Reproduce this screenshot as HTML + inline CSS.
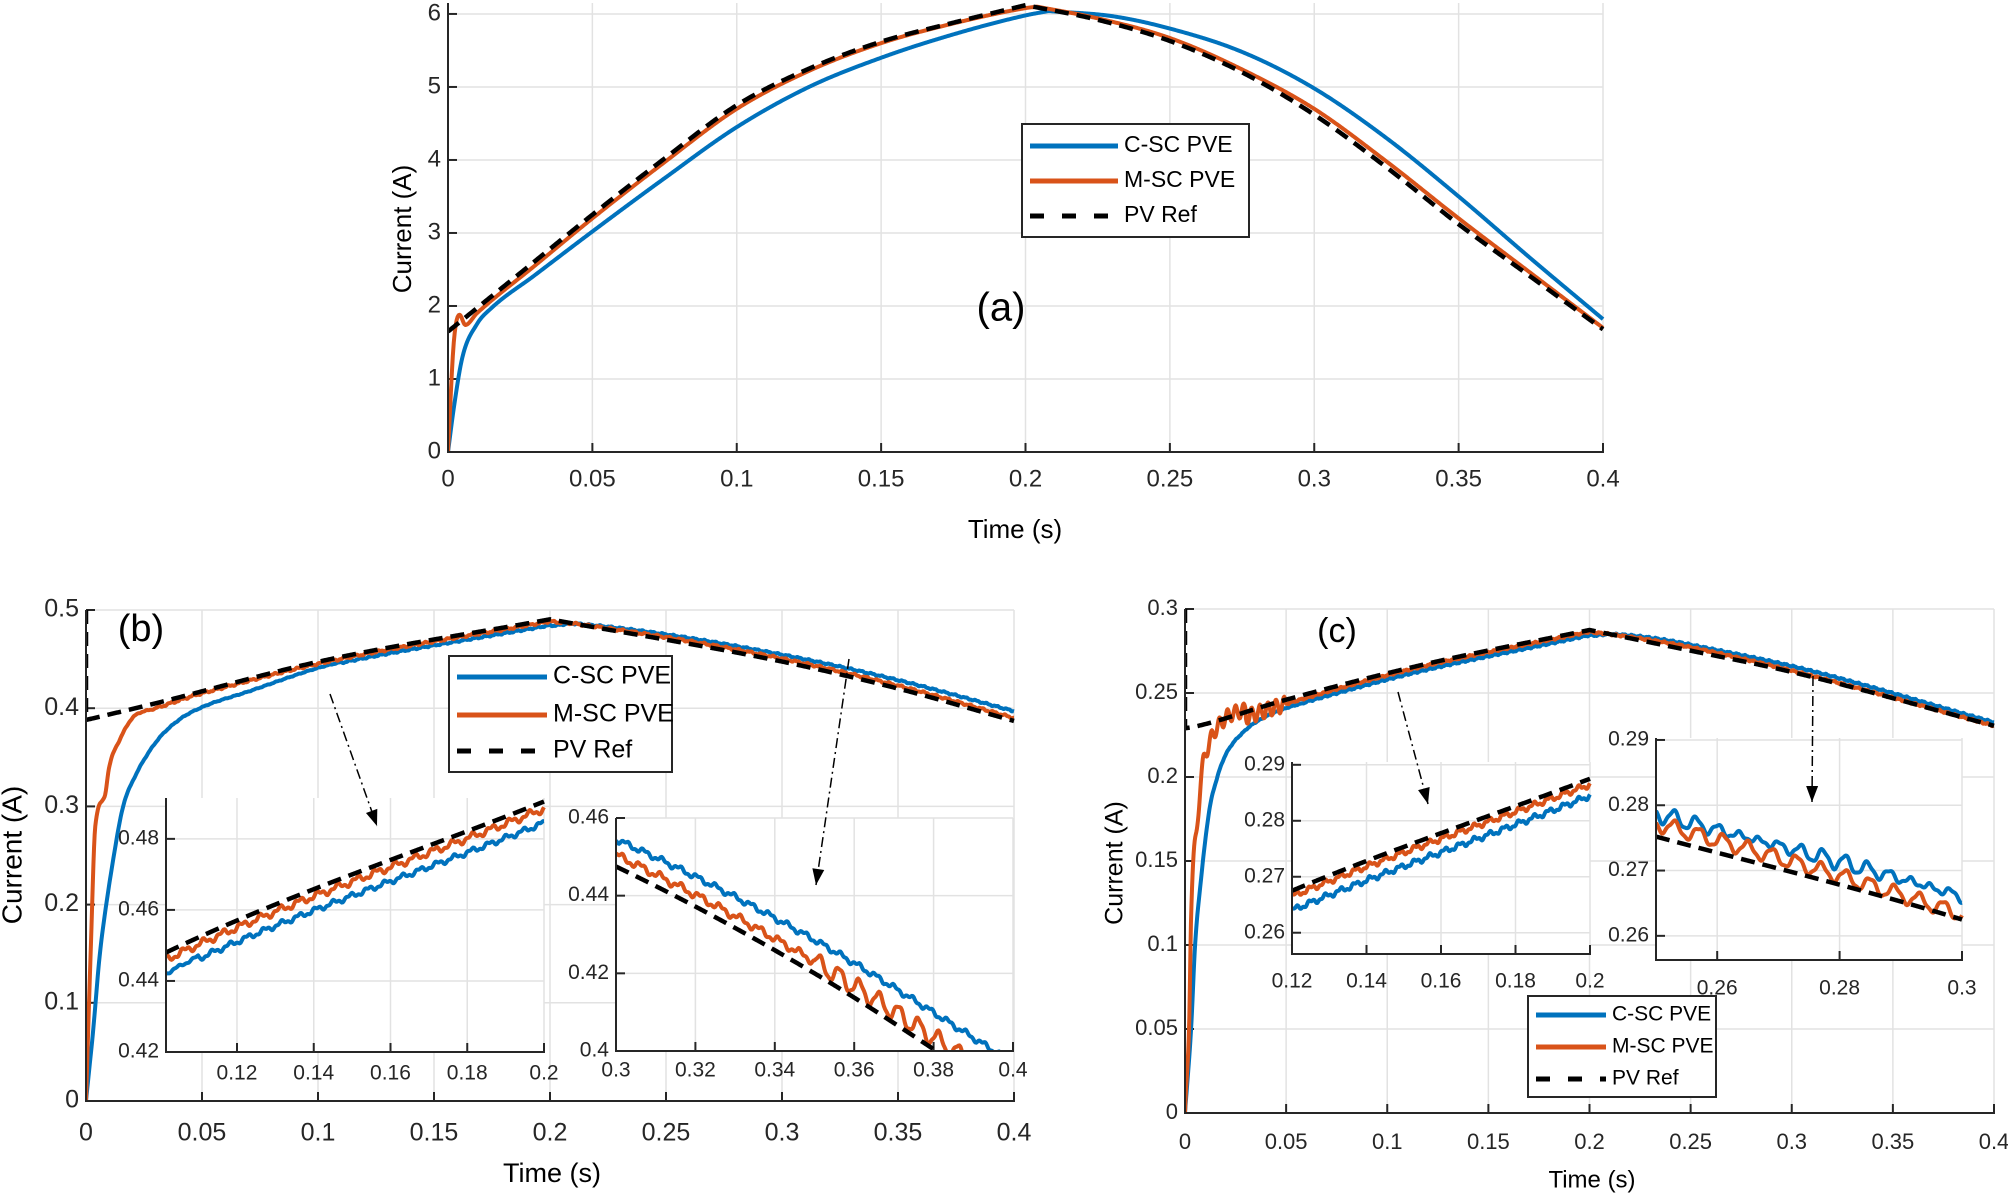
<!DOCTYPE html>
<html><head><meta charset="utf-8">
<style>html,body{margin:0;padding:0;background:#fff;}svg{display:block;font-family:"Liberation Sans",Arial,sans-serif;}</style>
</head><body>
<svg id="s" width="2008" height="1193" viewBox="0 0 2008 1193" xmlns="http://www.w3.org/2000/svg"></svg>
<script>
const S=document.getElementById('s');const NS='http://www.w3.org/2000/svg';
let cid=0;
function el(t,a,p,txt){if(typeof p==='string'){txt=p;p=null;}const e=document.createElementNS(NS,t);for(const k in a)e.setAttribute(k,a[k]);if(txt!==undefined)e.textContent=txt;(p||S).appendChild(e);return e;}
const cache=new Map();
function slopes(P){const n=P.length,d=[],m=[];for(let i=0;i<n-1;i++)d.push((P[i+1][1]-P[i][1])/(P[i+1][0]-P[i][0]));
 m[0]=d[0];m[n-1]=d[n-2];for(let i=1;i<n-1;i++){m[i]=(d[i-1]*d[i]<=0)?0:(d[i-1]+d[i])/2;}
 for(let i=0;i<n-1;i++){if(d[i]===0){m[i]=0;m[i+1]=0;continue;}const a=m[i]/d[i],b=m[i+1]/d[i],s=a*a+b*b;if(s>9){const t=3/Math.sqrt(s);m[i]=t*a*d[i];m[i+1]=t*b*d[i];}}
 return m;}
function interp(P,x){if(x<=P[0][0])return P[0][1];let m=cache.get(P);if(!m){m=slopes(P);cache.set(P,m);}
 for(let i=1;i<P.length;i++){if(x<=P[i][0]){const a=P[i-1],b=P[i],h=b[0]-a[0],t=(x-a[0])/h,t2=t*t,t3=t2*t;
  return (2*t3-3*t2+1)*a[1]+(t3-2*t2+t)*h*m[i-1]+(-2*t3+3*t2)*b[1]+(t3-t2)*h*m[i];}}return P[P.length-1][1];}
const BLUE='#0072BD',ORG='#D95319';
function axes(o){
 const {L,R,T,B,xr,yr,xt,yt,xl,yl,fs,xo,bg}=o;
 const X=v=>L+(v-xr[0])/(xr[1]-xr[0])*(R-L);
 const Y=v=>B-(v-yr[0])/(yr[1]-yr[0])*(B-T);
 if(bg)el('rect',{x:L,y:T,width:R-L,height:B-T,fill:'#fff'});
 xt.forEach(v=>el('line',{x1:X(v),x2:X(v),y1:T,y2:B,stroke:'#e2e2e2','stroke-width':1.5}));
 yt.forEach(v=>el('line',{x1:L,x2:R,y1:Y(v),y2:Y(v),stroke:'#e2e2e2','stroke-width':1.5}));
 xt.forEach((v,i)=>{el('line',{x1:X(v),x2:X(v),y1:B,y2:B-9,stroke:'#262626','stroke-width':2});
  el('text',{x:X(v),y:B+xo,'font-size':fs,'text-anchor':'middle','dominant-baseline':'middle',fill:'#262626'},null,xl[i]);});
 yt.forEach((v,i)=>{el('line',{x1:L,x2:L+9,y1:Y(v),y2:Y(v),stroke:'#262626','stroke-width':2});
  el('text',{x:L-7,y:Y(v),'font-size':fs,'text-anchor':'end','dominant-baseline':'middle',fill:'#262626'},null,yl[i]);});
 const id='c'+(cid++);const cp=el('clipPath',{id:id});el('rect',{x:L,y:T-4,width:R-L+4,height:B-T+4},cp);
 const g=el('g',{'clip-path':'url(#'+id+')'});
 o.series.forEach(s=>{let d='';const N=s.n||900;
  if(s.pre)d+='M'+X(s.pre[0])+' '+Y(s.pre[1])+' ';
  for(let i=0;i<=N;i++){const x=xr[0]+(xr[1]-xr[0])*i/N;d+=(i||s.pre?'L':'M')+X(x).toFixed(2)+' '+Y(s.f(x)).toFixed(2)+' ';}
  el('path',{d:d,fill:'none',stroke:s.c,'stroke-width':s.w||4,'stroke-dasharray':s.dash||'none','stroke-linejoin':'round'},g);});
 el('line',{x1:L,x2:L,y1:T,y2:B+1,stroke:'#262626','stroke-width':2});
 el('line',{x1:L-1,x2:R+1,y1:B,y2:B,stroke:'#262626','stroke-width':2});
}
function legend(x,y,w,h,rows,fs,ll){el('rect',{x:x,y:y,width:w,height:h,fill:'#fff',stroke:'#262626','stroke-width':2});
 const cs=[[BLUE,''],[ORG,''],['#000','14,18']];
 rows.forEach((ry,i)=>{el('line',{x1:x+8,x2:x+8+ll,y1:ry,y2:ry,stroke:cs[i][0],'stroke-width':5,'stroke-dasharray':cs[i][1]||'none'});
  el('text',{x:x+14+ll,y:ry,'font-size':fs,'dominant-baseline':'middle',fill:'#000'},null,['C-SC PVE','M-SC PVE','PV Ref'][i]);});}
function arrow(x1,y1,x2,y2){el('line',{x1:x1,y1:y1,x2:x2,y2:y2,stroke:'#000','stroke-width':1.5,'stroke-dasharray':'10,4,2,4'});
 const a=Math.atan2(y2-y1,x2-x1),l=16,w=6;const p=[[x2,y2],[x2-l*Math.cos(a)+w*Math.sin(a),y2-l*Math.sin(a)-w*Math.cos(a)],[x2-l*Math.cos(a)-w*Math.sin(a),y2-l*Math.sin(a)+w*Math.cos(a)]];
 el('polygon',{points:p.map(q=>q.join(',')).join(' '),fill:'#000'});}
const rip=(A,P)=>x=>A*(Math.sin(2*Math.PI*x/P)+0.5*Math.sin(2*Math.PI*x/(P*0.37)+1));
function mk(ref,init,xs,off,r){return x=>x<xs?interp(init,x)+r(x)*0.5:interp(ref,x)+interp(off,x)+r(x);}
const xt4=[0,0.05,0.1,0.15,0.2,0.25,0.3,0.35,0.4],xl4=['0','0.05','0.1','0.15','0.2','0.25','0.3','0.35','0.4'];
// ---- (a)
const refA1=[[0,1.65],[0.025,2.45],[0.05,3.25],[0.075,4.02],[0.1,4.75],[0.125,5.25],[0.15,5.62],[0.175,5.88],[0.2,6.12]];
const refA2=[[0.2,6.12],[0.225,5.92],[0.25,5.63],[0.275,5.2],[0.3,4.62],[0.325,3.9],[0.35,3.12],[0.375,2.4],[0.4,1.68]];
const bluA1=[[0,0],[0.002,0.6],[0.005,1.3],[0.01,1.75],[0.015,1.97],[0.03,2.42],[0.05,3.02],[0.075,3.75],[0.1,4.45],[0.125,5.0],[0.15,5.4],[0.175,5.72],[0.2,5.98],[0.208,6.04]];
const bluA2=[[0.208,6.04],[0.23,5.97],[0.25,5.8],[0.275,5.48],[0.3,4.98],[0.325,4.3],[0.35,3.5],[0.375,2.65],[0.4,1.82]];
const orgA1=[[0,0],[0.002,1.5],[0.004,1.88],[0.006,1.74],[0.01,1.9],[0.03,2.55],[0.05,3.2],[0.075,3.97],[0.1,4.7],[0.125,5.22],[0.15,5.6],[0.175,5.87],[0.2,6.08],[0.204,6.1]];
const orgA2=[[0.204,6.1],[0.225,5.94],[0.25,5.67],[0.275,5.24],[0.3,4.7],[0.325,3.98],[0.35,3.2],[0.375,2.45],[0.4,1.7]];
const two=(A,Bp)=>x=>x<=Bp[0][0]?interp(A,x):interp(Bp,x);
axes({L:448,R:1603,T:3,B:452,xr:[0,0.4],yr:[0,6.15],xt:xt4,xl:xl4,yt:[0,1,2,3,4,5,6],yl:['0','1','2','3','4','5','6'],fs:24,xo:28,
 series:[{f:two(bluA1,bluA2),c:BLUE,n:1200},{f:two(orgA1,orgA2),c:ORG,n:1200},{f:two(refA1,refA2),c:'#000',dash:'14,8',w:4.5}]});
el('text',{x:1015,y:531,'font-size':26,'text-anchor':'middle','dominant-baseline':'middle'},null,'Time (s)');
el('text',{x:0,y:0,'font-size':26,'text-anchor':'middle','dominant-baseline':'middle',transform:'translate(404,229) rotate(-90)'},null,'Current (A)');
el('text',{x:1001,y:310,'font-size':40,'text-anchor':'middle','dominant-baseline':'middle'},null,'(a)');
legend(1022,124,227,113,[146,181,216],23,88);
// ---- (b)
const refB1=[[0,0.388],[0.03,0.405],[0.1015,0.448],[0.2,0.4905]],refB2=[[0.2,0.4905],[0.3,0.4475],[0.35,0.42],[0.4,0.387]];
const refB=null;
const rB=two(refB1,refB2);
function mk2(rf,init,xs,off,r){return x=>x<xs?interp(init,x)+r(x)*0.5:rf(x)+interp(off,x)+r(x);}
const bB=mk2(rB,[[0,0],[0.003,0.07],[0.006,0.15],[0.01,0.22],[0.016,0.3],[0.02,0.325],[0.03,0.365],[0.04,0.388],[0.05,0.401],[0.07,0.417],[0.1,0.441],[0.11,0.447]],0.11,[[0.11,-0.006],[0.2,-0.006],[0.21,0],[0.3,0.007],[0.4,0.01]],rip(0.0006,0.0045));
const oB=mk2(rB,[[0,0],[0.002,0.15],[0.004,0.28],[0.008,0.31],[0.01,0.34],[0.015,0.37],[0.02,0.39],[0.03,0.4]],0.03,[[0.03,-0.005],[0.05,-0.002],[0.2,-0.002],[0.21,0],[0.3,0.003],[0.4,0.003]],rip(0.0008,0.005));
axes({L:86,R:1014,T:610,B:1101,xr:[0,0.4],yr:[0,0.5],xt:xt4,xl:xl4,yt:[0,0.1,0.2,0.3,0.4,0.5],yl:['0','0.1','0.2','0.3','0.4','0.5'],fs:25,xo:33,
 series:[{f:bB,c:BLUE,n:1500},{f:oB,c:ORG,n:1500},{f:rB,c:'#000',dash:'14,8',w:4.5,pre:[0,0.5]}]});
el('text',{x:552,y:1175,'font-size':27,'text-anchor':'middle','dominant-baseline':'middle'},null,'Time (s)');
el('text',{x:0,y:0,'font-size':28,'text-anchor':'middle','dominant-baseline':'middle',transform:'translate(14,855) rotate(-90)'},null,'Current (A)');
el('text',{x:141,y:631,'font-size':38,'text-anchor':'middle','dominant-baseline':'middle'},null,'(b)');
legend(449,656,223,116,[677,715,751],25,90);
axes({L:166,R:544,T:798,B:1052,xr:[0.1015,0.2],yr:[0.42,0.4915],xt:[0.12,0.14,0.16,0.18,0.2],xl:['0.12','0.14','0.16','0.18','0.2'],yt:[0.42,0.44,0.46,0.48],yl:['0.42','0.44','0.46','0.48'],fs:21,xo:22,bg:1,
 series:[{f:bB,c:BLUE,n:400},{f:oB,c:ORG,n:400},{f:rB,c:'#000',dash:'14,8',w:4.5}]});
axes({L:616,R:1013,T:818,B:1051,xr:[0.3,0.4],yr:[0.4,0.46],xt:[0.3,0.32,0.34,0.36,0.38,0.4],xl:['0.3','0.32','0.34','0.36','0.38','0.4'],yt:[0.4,0.42,0.44,0.46],yl:['0.4','0.42','0.44','0.46'],fs:21,xo:20,bg:1,
 series:[{f:bB,c:BLUE,n:400},{f:x=>oB(x)+(x>0.35?0.0015*Math.sin(2*Math.PI*x/0.005):0),c:ORG,n:400},{f:rB,c:'#000',dash:'14,8',w:4.5}]});
arrow(330,694,377,826);arrow(849,659,816,885);
// ---- (c)
const refC1=[[0,0.229],[0.005,0.23],[0.05,0.246],[0.12,0.2675],[0.2,0.2875]],refC2=[[0.2,0.2875],[0.25,0.2752],[0.3,0.2625],[0.4,0.2305]];
const rC=two(refC1,refC2);
const bC=mk2(rC,[[0,0],[0.003,0.05],[0.005,0.1],[0.008,0.14],[0.012,0.18],[0.016,0.2],[0.02,0.213],[0.03,0.228],[0.04,0.236],[0.05,0.241],[0.06,0.2445]],0.06,[[0.06,-0.0045],[0.12,-0.0035],[0.2,-0.003],[0.21,0],[0.25,0.0035],[0.3,0.0035],[0.4,0.002]],rip(0.0004,0.004));
const oC=mk2(rC,[[0,0],[0.002,0.05],[0.003,0.12],[0.006,0.17],[0.008,0.2],[0.012,0.22],[0.02,0.235],[0.03,0.24]],0.03,[[0.03,-0.003],[0.12,-0.001],[0.2,-0.001],[0.21,0],[0.25,0.002],[0.3,0.0008],[0.4,0]],rip(0.0004,0.004));
const oC2=x=>oC(x)+(x<0.05?0.004*Math.sin(2*Math.PI*x/0.004):0);
axes({L:1185,R:1994,T:609,B:1113,xr:[0,0.4],yr:[0,0.3],xt:xt4,xl:xl4,yt:[0,0.05,0.1,0.15,0.2,0.25,0.3],yl:['0','0.05','0.1','0.15','0.2','0.25','0.3'],fs:22,xo:30,
 series:[{f:bC,c:BLUE,n:1500},{f:oC2,c:ORG,n:1500},{f:rC,c:'#000',dash:'14,8',w:4.5,pre:[0,0.3]}]});
el('text',{x:1592,y:1181,'font-size':24,'text-anchor':'middle','dominant-baseline':'middle'},null,'Time (s)');
el('text',{x:0,y:0,'font-size':25,'text-anchor':'middle','dominant-baseline':'middle',transform:'translate(1116,863) rotate(-90)'},null,'Current (A)');
el('text',{x:1337,y:633,'font-size':34,'text-anchor':'middle','dominant-baseline':'middle'},null,'(c)');
axes({L:1292,R:1590,T:762,B:954,xr:[0.12,0.2],yr:[0.2562,0.2905],xt:[0.12,0.14,0.16,0.18,0.2],xl:['0.12','0.14','0.16','0.18','0.2'],yt:[0.26,0.27,0.28,0.29],yl:['0.26','0.27','0.28','0.29'],fs:21,xo:28,bg:1,
 series:[{f:bC,c:BLUE,n:400},{f:oC2,c:ORG,n:400},{f:rC,c:'#000',dash:'14,8',w:4.5}]});
axes({L:1656,R:1962,T:738,B:960,xr:[0.25,0.3],yr:[0.2563,0.2903],xt:[0.26,0.28,0.3],xl:['0.26','0.28','0.3'],yt:[0.26,0.27,0.28,0.29],yl:['0.26','0.27','0.28','0.29'],fs:21,xo:29,bg:1,
 series:[{f:x=>bC(x)+0.0008*Math.sin(2*Math.PI*x/0.0035),c:BLUE,n:400},{f:x=>oC(x)+0.0007*Math.sin(2*Math.PI*x/0.004),c:ORG,n:400},{f:rC,c:'#000',dash:'14,8',w:4.5}]});
arrow(1398,692,1428,804);arrow(1813,676,1812,802);
legend(1528,996,188,101,[1015,1047,1079],21,70);
</script>
</body></html>
